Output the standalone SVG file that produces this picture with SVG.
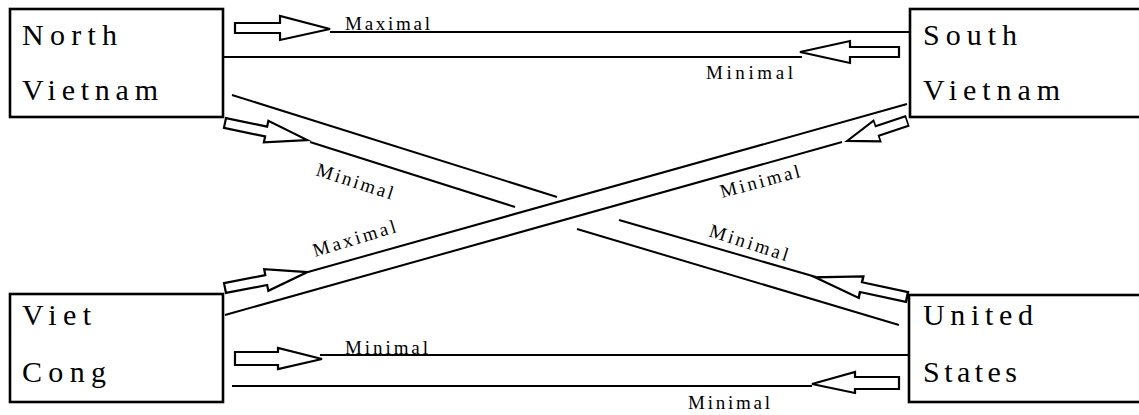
<svg xmlns="http://www.w3.org/2000/svg" width="1139" height="415" viewBox="0 0 1139 415">
<style>
.box{fill:#fff;stroke:#000;stroke-width:2.6}
.lbl{font-family:"Liberation Serif","Times New Roman",serif;font-size:30px;fill:#000}
.ln{stroke:#000;stroke-width:2;fill:none}
.arr{fill:#fff;stroke:#000;stroke-width:2.2;stroke-linejoin:miter}
.sm{font-family:"Liberation Serif","Times New Roman",serif;font-size:19px;fill:#000}
</style>
<defs>
<polygon id="da" points="0,-5 42,-5 42,-11 84,0 42,11 42,5 0,5"/>
</defs>
<rect width="1139" height="415" fill="#fff"/>
<g id="connectors">
<line class="ln" x1="330" y1="32" x2="910" y2="32"/>
<line class="ln" x1="223" y1="57" x2="802" y2="57"/>
<line class="ln" x1="320" y1="355" x2="909" y2="355"/>
<line class="ln" x1="232" y1="386" x2="812" y2="386"/>
<line class="ln" x1="232" y1="95" x2="557" y2="197"/>
<line class="ln" x1="619" y1="220" x2="816" y2="277"/>
<line class="ln" x1="310" y1="142" x2="515" y2="207"/>
<line class="ln" x1="577" y1="229" x2="899" y2="325"/>
<line class="ln" x1="308" y1="272" x2="907" y2="104"/>
<line class="ln" x1="225" y1="315" x2="842" y2="142"/>
<polygon class="arr" points="235,23 280,23 280,16 330,29 280,40 280,33 235,33"/>
<polygon class="arr" points="899,47 850,47 850,41 800,52 850,63 850,57 899,57"/>
<polygon class="arr" points="235,352 278,352 278,348 322,359 278,369 278,365 235,365"/>
<polygon class="arr" points="899,377 855,377 855,372 812,384 855,393 855,389 899,389"/>
<use href="#da" class="arr" transform="translate(225,123) rotate(11.7)"/>
<use href="#da" class="arr" transform="translate(225,288) rotate(-10.9)"/>
<use href="#da" class="arr" transform="translate(907,297) rotate(192.1) scale(1.12,1)"/>
<use href="#da" class="arr" transform="translate(907,121) rotate(161.6) scale(0.75,1)"/>
<text class="sm" x="345" y="30" textLength="85" lengthAdjust="spacing">Maximal</text>
<text class="sm" x="706" y="79" textLength="87" lengthAdjust="spacing">Minimal</text>
<text class="sm" x="345" y="354" textLength="83" lengthAdjust="spacing">Minimal</text>
<text class="sm" x="688" y="409" textLength="82" lengthAdjust="spacing">Minimal</text>
<text class="sm" transform="translate(315,175) rotate(18)" textLength="80" lengthAdjust="spacing">Minimal</text>
<text class="sm" transform="translate(315,257) rotate(-17)" textLength="86" lengthAdjust="spacing">Maximal</text>
<text class="sm" transform="translate(722,198) rotate(-15)" textLength="82" lengthAdjust="spacing">Minimal</text>
<text class="sm" transform="translate(708,236) rotate(18)" textLength="82" lengthAdjust="spacing">Minimal</text>
</g>
<g id="north-vietnam">
<rect class="box" x="10" y="9" width="213" height="108"/>
<text class="lbl" x="22" y="45" textLength="95" lengthAdjust="spacing">North</text>
<text class="lbl" x="22" y="100" textLength="136" lengthAdjust="spacing">Vietnam</text>
</g>
<g id="south-vietnam">
<rect class="box" x="910" y="9" width="240" height="108"/>
<text class="lbl" x="923" y="45" textLength="94" lengthAdjust="spacing">South</text>
<text class="lbl" x="923" y="100" textLength="137" lengthAdjust="spacing">Vietnam</text>
</g>
<g id="viet-cong">
<rect class="box" x="10" y="294" width="213" height="108"/>
<text class="lbl" x="22" y="325" textLength="69" lengthAdjust="spacing">Viet</text>
<text class="lbl" x="22" y="382" textLength="84" lengthAdjust="spacing">Cong</text>
</g>
<g id="united-states">
<rect class="box" x="909" y="295" width="240" height="107"/>
<text class="lbl" x="923" y="325" textLength="110" lengthAdjust="spacing">United</text>
<text class="lbl" x="923" y="382" textLength="94" lengthAdjust="spacing">States</text>
</g>
</svg>
